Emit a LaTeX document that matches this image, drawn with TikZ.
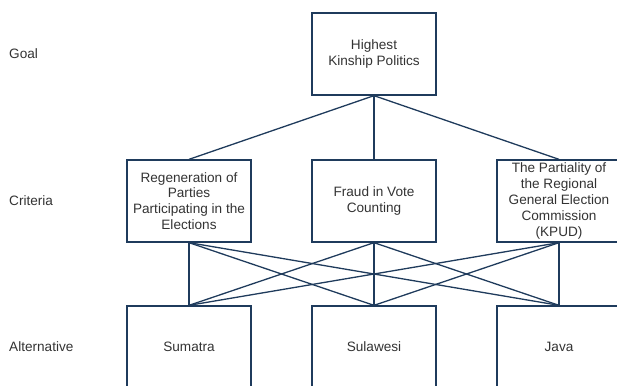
\documentclass[tikz,border=0pt]{standalone}
\usepackage{fontspec}
\setmainfont{Liberation Sans}
\usepackage{xcolor}
\definecolor{linenavy}{HTML}{1F3B5C}
\definecolor{txtgray}{HTML}{333333}
\usetikzlibrary{positioning}

\begin{document}
\begin{tikzpicture}[
    x=1pt, y=-1pt,
    box/.style={rectangle, draw=linenavy, line width=1.3pt, minimum width=124pt, minimum height=82pt, inner sep=1pt, align=center, text=txtgray, font=\fontsize{13.6}{15.8}\selectfont},
    lvl/.style={anchor=west, text=txtgray, inner sep=0pt, font=\fontsize{13.6}{15.8}\selectfont},
    link/.style={draw=linenavy, line width=1.3pt}
]
    \useasboundingbox (0,0) rectangle (617,385);
    \clip (0,0) rectangle (617,385);

    % level labels
    \node[lvl] (lGoal) at (9,54)  {Goal};
    \node[lvl] (lCrit) at (9,201) {Criteria};
    \node[lvl] (lAlt)  at (9,347) {Alternative};

    % goal
    \node[box] (G) at (374,54) {Highest\\Kinship Politics};

    % criteria
    \node[box] (C1) at (189,201) {Regeneration of\\Parties\\Participating in the\\Elections};
    \node[box] (C2) at (374,201) {Fraud in Vote\\Counting};
    \node[box] (C3) at (559,201) {The Partiality of\\the Regional\\General Election\\Commission\\(KPUD)};

    % alternatives
    \node[box] (A1) at (189,347) {Sumatra};
    \node[box] (A2) at (374,347) {Sulawesi};
    \node[box] (A3) at (559,347) {Java};

    \foreach \c in {C1,C2,C3}
        \draw[link] (G.south) -- (\c.north);
    \foreach \c in {C1,C2,C3}
        \foreach \a in {A1,A2,A3}
            \draw[link] (\c.south) -- (\a.north);
\end{tikzpicture}
\end{document}
